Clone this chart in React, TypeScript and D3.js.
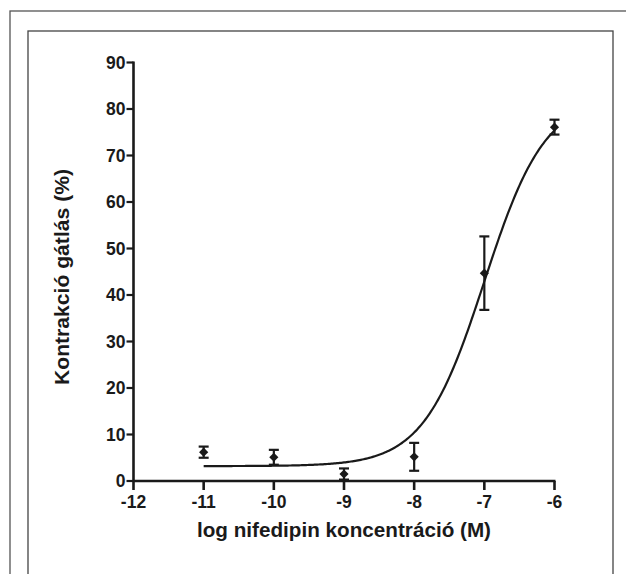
import React from "react";
import * as d3 from "d3";

// Measured data: log concentration, mean inhibition (%), SEM
const logConc = [-11, -10, -9, -8, -7, -6];
const meanInhibition = [6.2, 5.1, 1.5, 5.2, 44.7, 76.1];
const semInhibition = [1.2, 1.6, 1.2, 3.0, 7.9, 1.6];

// Fitted sigmoidal dose-response parameters
const fitBottom = 3.2;
const fitTop = 82.6;
const fitLogEC50 = -7.0;
const fitHill = 1.0;

const xTicks = [-12, -11, -10, -9, -8, -7, -6];
const yTicks = [0, 10, 20, 30, 40, 50, 60, 70, 80, 90];

const xTitle = "log nifedipin koncentráció (M)";
const yTitle = "Kontrakció gátlás (%)";

const W = 626;
const H = 574;
const INK = "#1a1a1a";
const FONT = "'Liberation Sans', Arial, Helvetica, sans-serif";

export default function App() {
  const x = d3.scaleLinear().domain([-12, -6]).range([133.5, 554.5]);
  const y = d3.scaleLinear().domain([0, 90]).range([481, 62.5]);

  const sigmoid = (v: number) =>
    fitBottom + (fitTop - fitBottom) / (1 + Math.pow(10, (fitLogEC50 - v) * fitHill));
  const curveX = d3.range(-11, -6 + 1e-9, 0.02);
  const line = d3
    .line<number>()
    .x((d) => x(d))
    .y((d) => y(sigmoid(d)));

  // diamond marker: a square turned 45 degrees
  const marker = d3.symbol().type(d3.symbolSquare).size(42)() as string;
  const cap = 5;

  return (
    <svg
      width={W}
      height={H}
      style={{ position: "absolute", left: 0, top: 0, background: "#fff" }}
      fontFamily={FONT}
    >
      <rect x={10} y={11} width={700} height={700} fill="none" stroke="#555" strokeWidth={1.3} />
      <rect x={28} y={31} width={585} height={700} fill="none" stroke="#444" strokeWidth={1.3} />

      {/* y axis */}
      <line x1={x(-12)} x2={x(-12)} y1={y(90) - 1} y2={y(0)} stroke={INK} strokeWidth={2.6} />
      {yTicks.map((t) => (
        <g key={t}>
          <line x1={x(-12) - 7} x2={x(-12)} y1={y(t)} y2={y(t)} stroke={INK} strokeWidth={2.2} />
          <text
            x={x(-12) - 8}
            y={y(t)}
            dy="0.36em"
            textAnchor="end"
            fontSize={17.5}
            fontWeight="bold"
            fill={INK}
          >
            {t}
          </text>
        </g>
      ))}

      {/* x axis */}
      <line x1={x(-12)} x2={x(-6) + 1} y1={y(0)} y2={y(0)} stroke={INK} strokeWidth={2.6} />
      {xTicks.map((t) => (
        <g key={t}>
          <line x1={x(t)} x2={x(t)} y1={y(0)} y2={y(0) + 9} stroke={INK} strokeWidth={2.6} />
          <text
            x={x(t)}
            y={508}
            textAnchor="middle"
            fontSize={17.5}
            fontWeight="bold"
            fill={INK}
          >
            {t}
          </text>
        </g>
      ))}

      {/* fitted curve */}
      <path d={line(curveX) as string} fill="none" stroke={INK} strokeWidth={2.2} />

      {/* error bars and means */}
      {logConc.map((c, i) => {
        const cx = x(c);
        const hi = y(meanInhibition[i] + semInhibition[i]);
        const lo = y(meanInhibition[i] - semInhibition[i]);
        return (
          <g key={c}>
            <line x1={cx} x2={cx} y1={hi} y2={lo} stroke={INK} strokeWidth={2.2} />
            <line x1={cx - cap} x2={cx + cap} y1={hi} y2={hi} stroke={INK} strokeWidth={2.2} />
            <line x1={cx - cap} x2={cx + cap} y1={lo} y2={lo} stroke={INK} strokeWidth={2.2} />
            <path
              d={marker}
              transform={`translate(${cx},${y(meanInhibition[i])}) rotate(45)`}
              fill={INK}
            />
          </g>
        );
      })}

      {/* axis titles */}
      <text
        x={344}
        y={537}
        textAnchor="middle"
        fontSize={20}
        fontWeight="bold"
        fill={INK}
        textLength={294}
        lengthAdjust="spacingAndGlyphs"
      >
        {xTitle}
      </text>
      <text
        transform={`translate(69,277) rotate(-90)`}
        textAnchor="middle"
        fontSize={19.5}
        fontWeight="bold"
        fill={INK}
        textLength={216}
        lengthAdjust="spacingAndGlyphs"
      >
        {yTitle}
      </text>
    </svg>
  );
}
